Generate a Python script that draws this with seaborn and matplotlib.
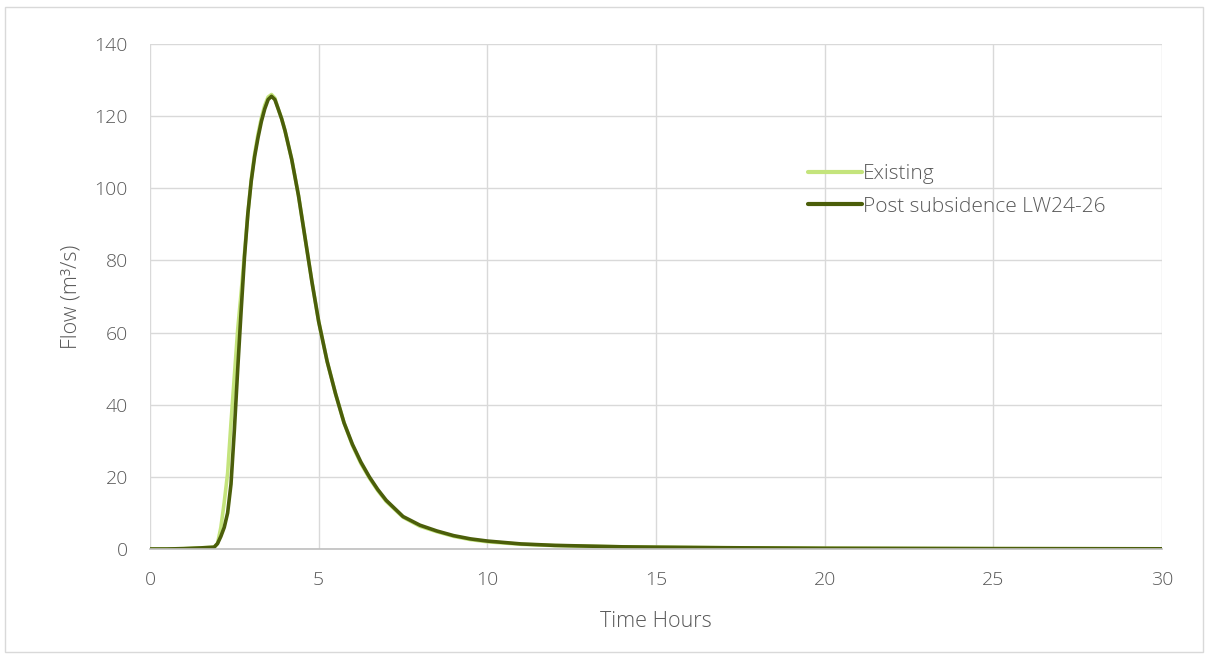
import matplotlib
matplotlib.use("Agg")
import matplotlib.pyplot as plt
import seaborn as sns
import pandas as pd
from matplotlib.patches import Rectangle

time_hours = [0, 0.5, 1, 1.5, 1.9, 2.0, 2.1, 2.2, 2.3, 2.4, 2.5, 2.6, 2.7, 2.8, 2.9,
              3.0, 3.1, 3.2, 3.3, 3.4, 3.5, 3.6, 3.7, 3.8, 3.9, 4.0, 4.2, 4.4, 4.6, 4.8,
              5.0, 5.25, 5.5, 5.75, 6.0, 6.25, 6.5, 6.75, 7, 7.5, 8, 8.5, 9, 9.5, 10,
              11, 12, 13, 14, 15, 17, 20, 25, 30]

existing = [0, 0, 0.1, 0.3, 0.5, 1.5, 6, 13, 21, 35, 48, 61, 71, 82, 93,
            102.5, 109.5, 115, 119.5, 123, 125.3, 126, 125, 122, 119.3, 116, 108, 98, 86, 74,
            63, 52, 43, 35, 28.7, 23.7, 19.7, 16.2, 13.2, 8.8, 6.3, 4.8, 3.5, 2.6, 2.0,
            1.3, 0.95, 0.75, 0.6, 0.5, 0.35, 0.2, 0.1, 0.05]

post_lw24_26 = [0, 0, 0.1, 0.3, 0.5, 1.5, 3.5, 6, 10, 18, 33, 50, 66, 81, 93,
                102, 108.8, 114, 118.5, 122, 124.6, 125.5, 124.6, 122, 119.3, 116, 108, 98, 86, 74,
                63, 52, 43, 35, 29, 24.1, 20, 16.5, 13.5, 9.0, 6.6, 5.0, 3.7, 2.8, 2.2,
                1.4, 1.0, 0.8, 0.6, 0.5, 0.35, 0.2, 0.1, 0.05]

series_names = ["Existing", "Post subsidence LW24-26"]
x_ticks = [0, 5, 10, 15, 20, 25, 30]
y_ticks = [0, 20, 40, 60, 80, 100, 120, 140]

df = pd.concat([
    pd.DataFrame({"Time": time_hours, "Flow": existing, "Series": series_names[0]}),
    pd.DataFrame({"Time": time_hours, "Flow": post_lw24_26, "Series": series_names[1]}),
])

sns.set_theme(style="white")
plt.rcParams["font.family"] = ["Open Sans", "DejaVu Sans"]
plt.rcParams["font.weight"] = 300
plt.rcParams["axes.labelweight"] = 300

fig = plt.figure(figsize=(12.08, 6.57), dpi=100)
ax = fig.add_axes([0.1242, 0.1644, 0.962 - 0.1242, 0.933 - 0.1644])

palette = {series_names[0]: "#c4e47c", series_names[1]: "#4b5e0a"}
sns.lineplot(data=df, x="Time", y="Flow", hue="Series", palette=palette,
             linewidth=2.6, ax=ax, sort=False, estimator=None)
for ln in ax.get_lines():
    ln.set_solid_joinstyle("round")
    ln.set_solid_capstyle("round")

ax.set_xlim(0, 30)
ax.set_ylim(0, 140)
ax.set_xticks(x_ticks)
ax.set_yticks(y_ticks)
ax.grid(True, color="#d9d9d9", linewidth=1.0)
ax.set_axisbelow(True)
for s in ["top", "right", "left"]:
    ax.spines[s].set_visible(False)
ax.spines["bottom"].set_color("#bfbfbf")
ax.spines["bottom"].set_linewidth(1.2)
ax.tick_params(axis="both", length=0, labelsize=14, colors="#595959")
ax.tick_params(axis="x", pad=16)
ax.tick_params(axis="y", pad=16)
ax.set_xlabel("Time Hours", fontsize=15.5, color="#595959", labelpad=16, fontweight=300)
ax.set_ylabel("Flow (m³/s)", fontsize=15.5, color="#595959", labelpad=9, fontweight=300)

leg = ax.legend(loc="upper left", bbox_to_anchor=(0.650, 0.762), frameon=False,
                fontsize=15, handlelength=2.6, handletextpad=0.05, labelspacing=0.6,
                borderpad=0, borderaxespad=0)
for t in leg.get_texts():
    t.set_color("#595959")
for h in leg.get_lines():
    h.set_linewidth(3)

fig.patches.append(Rectangle((0.004, 0.008), 0.992, 0.982, transform=fig.transFigure,
                             fill=False, edgecolor="#d9d9d9", linewidth=1.0))

fig.savefig("out.png", dpi=100)
